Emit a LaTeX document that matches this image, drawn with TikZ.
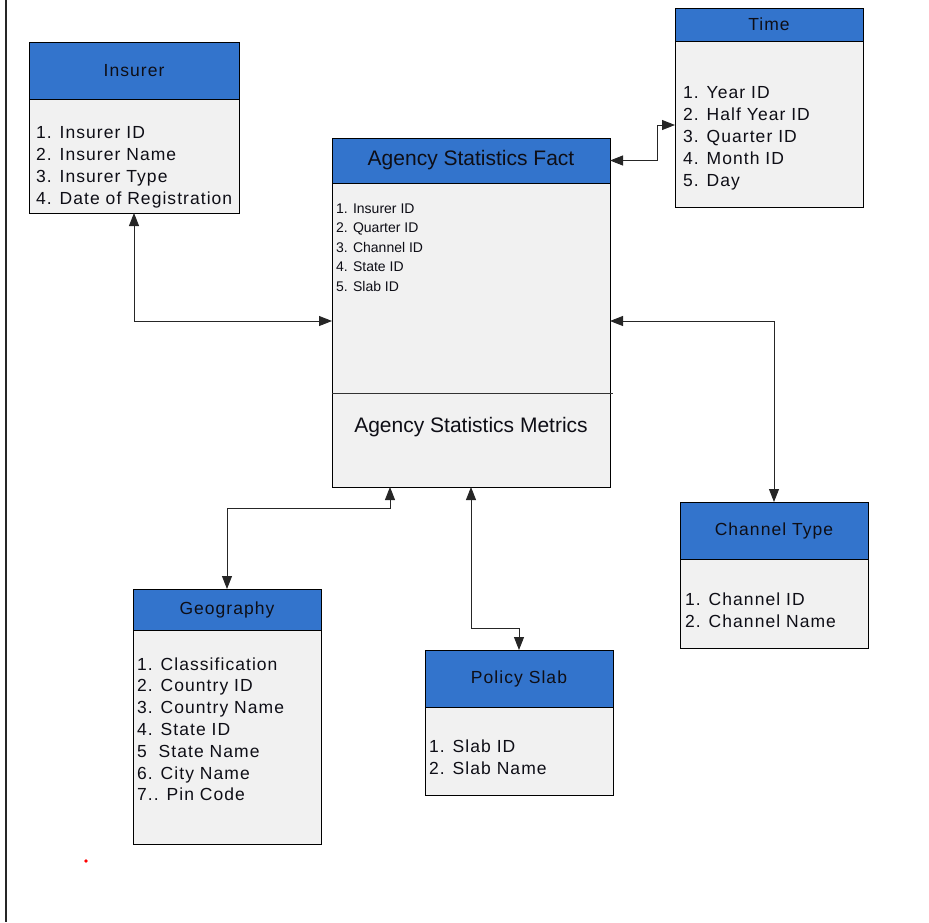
\documentclass[tikz,border=0pt]{standalone}
\usepackage{fontspec}
\setmainfont{Liberation Sans}
\newfontfamily\spacedfont[LetterSpace=6]{Liberation Sans}
\usetikzlibrary{arrows.meta}

\definecolor{hdrblue}{RGB}{51,116,204}
\definecolor{bodygray}{RGB}{241,241,241}
\definecolor{inkdark}{RGB}{14,14,22}

\tikzset{
  tbl/.style={draw=black, fill=bodygray, line width=0.9pt, anchor=north west,
              inner sep=0pt, outer sep=0pt},
  hdr/.style={draw=black, fill=hdrblue, line width=0.9pt, anchor=north west,
              inner sep=0pt, outer sep=0pt, text=inkdark,
              font=\spacedfont\fontsize{17.5}{20}\selectfont},
  facthdr/.style={hdr, font=\fontsize{21}{25}\selectfont},
  item/.style={anchor=base west, inner sep=0pt, text=inkdark,
               font=\spacedfont\fontsize{17.5}{20}\selectfont},
  factitem/.style={anchor=base west, inner sep=0pt, text=inkdark,
                   font=\fontsize{14}{17}\selectfont},
  link/.style={draw=black!85, line width=0.9pt,
               {Triangle[length=13pt,width=10pt]}-{Triangle[length=13pt,width=10pt]}}
}

\begin{document}
\begin{tikzpicture}[x=1pt, y=-1pt]
  \useasboundingbox (0,0) rectangle (929,922);

  % page frame on the left
  \draw[line width=2pt, black!85] (6,0) -- (6,922);
  \fill[red] (86,861) circle (1.9pt);

  % Insurer
  \node[tbl, minimum width=210pt, minimum height=171pt] (insurer) at (29,42) {};
  \node[hdr, minimum width=210pt, minimum height=57pt] (insurerhead) at (29,42) {Insurer};
  \foreach \t [count=\i] in {1. Insurer ID, 2. Insurer Name, 3. Insurer Type, 4. Date of Registration}
    \node[item] (insurer\i) at (36, 116+22*\i) {\t};

  % Time
  \node[tbl, minimum width=188pt, minimum height=199pt] (time) at (675,8) {};
  \node[hdr, minimum width=188pt, minimum height=33pt] (timehead) at (675,8) {Time};
  \foreach \t [count=\i] in {1. Year ID, 2. Half Year ID, 3. Quarter ID, 4. Month ID, 5. Day}
    \node[item] (time\i) at (683, 76+22*\i) {\t};

  % Agency Statistics fact table
  \node[tbl, minimum width=278pt, minimum height=349pt] (fact) at (332,138) {};
  \node[facthdr, minimum width=278pt, minimum height=45pt] (facthead) at (332,138) {Agency Statistics Fact};
  \foreach \t [count=\i] in {1. Insurer ID, 2. Quarter ID, 3. Channel ID, 4. State ID, 5. Slab ID}
    \node[factitem] (fact\i) at (336, 193.5+19.5*\i) {\t};
  \draw[line width=0.9pt, black!80] (fact.west |- 0,393) -- ([xshift=3pt]fact.east |- 0,393);
  \node[inner sep=0pt, text=inkdark, font=\fontsize{21}{25}\selectfont] (metrics) at (471,427) {Agency Statistics Metrics};

  % Channel Type
  \node[tbl, minimum width=188pt, minimum height=146pt] (channel) at (680,502) {};
  \node[hdr, minimum width=188pt, minimum height=57pt] (channelhead) at (680,502) {Channel Type};
  \foreach \t [count=\i] in {1. Channel ID, 2. Channel Name}
    \node[item] (channel\i) at (685, 583+22*\i) {\t};

  % Geography
  \node[tbl, minimum width=188pt, minimum height=255pt] (geo) at (133,589) {};
  \node[hdr, minimum width=188pt, minimum height=41pt] (geohead) at (133,589) {Geography};
  \foreach \t [count=\i] in {1. Classification, 2. Country ID, 3. Country Name, 4. State ID, 5\ \ State Name, 6. City Name, 7.. Pin Code}
    \node[item] (geo\i) at (137, 648.2+21.8*\i) {\t};

  % Policy Slab
  \node[tbl, minimum width=188pt, minimum height=145pt] (policy) at (425,650) {};
  \node[hdr, minimum width=188pt, minimum height=57pt] (policyhead) at (425,650) {Policy Slab};
  \foreach \t [count=\i] in {1. Slab ID, 2. Slab Name}
    \node[item] (policy\i) at (429, 730+22*\i) {\t};

  % relationships
  \draw[link] (insurer.south) |- ([yshift=-8.5pt]fact.west);
  \draw[link] (facthead.east) -- ++(47,0) |- ([yshift=-17.5pt]time.west);
  \draw[link] ([yshift=-8.5pt]fact.east) -| (channelhead.north);
  \draw[link] ([xshift=-81pt]fact.south) -- ++(0,21) -| (geohead.north);
  \draw[link] (fact.south) -- ++(0,141) -| (policyhead.north);
\end{tikzpicture}
\end{document}
